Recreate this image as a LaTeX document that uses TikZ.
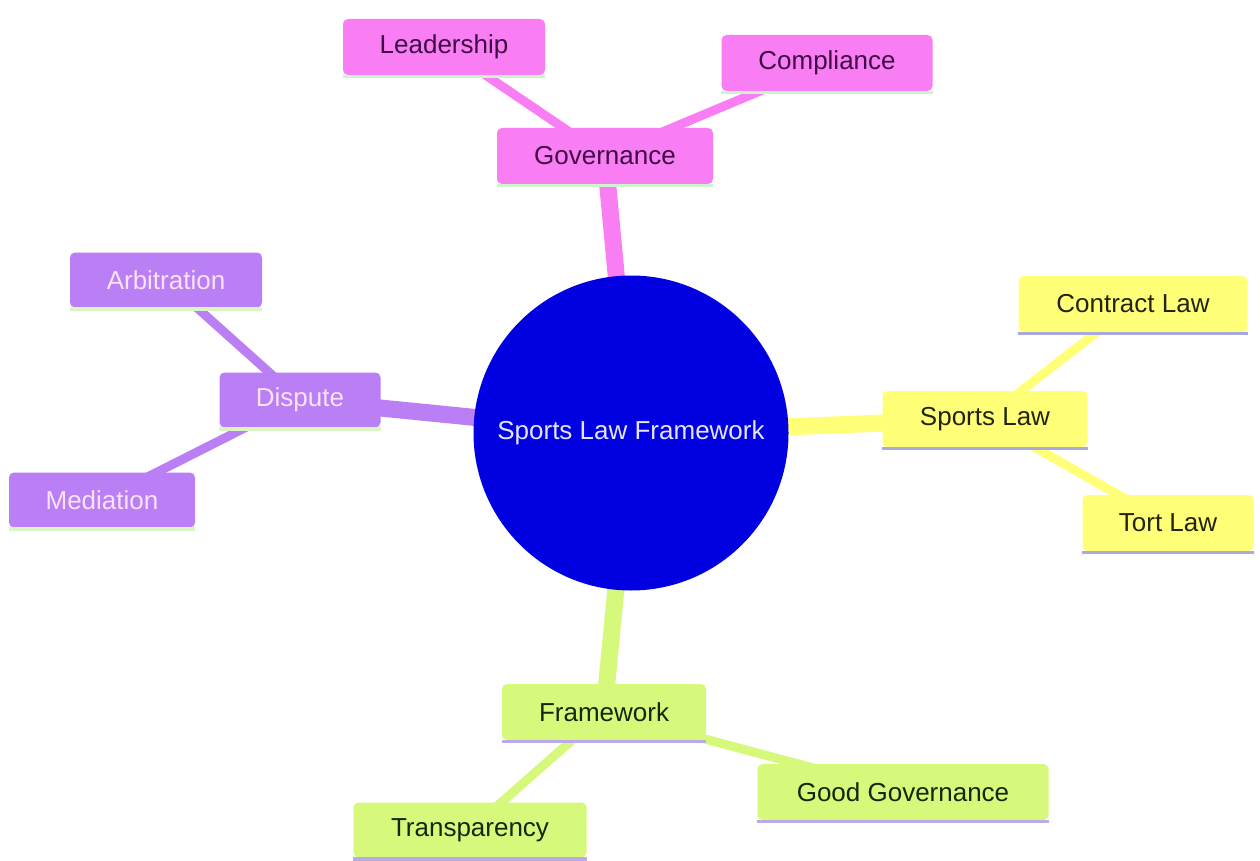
\documentclass[tikz,border=0pt]{standalone}
\usepackage{fontspec}
\setmainfont{Liberation Sans}
\definecolor{pinkf}{HTML}{F97EF4}
\definecolor{pinkt}{HTML}{3F0A45}
\definecolor{pinkl}{HTML}{CDF5CD}
\definecolor{yelf}{HTML}{FFFF78}
\definecolor{yelt}{HTML}{24240E}
\definecolor{yell}{HTML}{A9A9E2}
\definecolor{purf}{HTML}{BB7FF5}
\definecolor{purt}{HTML}{FBE2FB}
\definecolor{purl}{HTML}{DAF6C4}
\definecolor{grnf}{HTML}{D6F97C}
\definecolor{grnt}{HTML}{17260A}
\definecolor{grnl}{HTML}{BBAAE8}
\definecolor{rootf}{HTML}{0000E0}
\definecolor{roott}{HTML}{E4E4FF}
\pgfdeclarelayer{bgpaper}
\pgfdeclarelayer{edges}
\pgfsetlayers{bgpaper,edges,main}
\begin{document}
\begin{tikzpicture}[x=1pt,y=-1pt,
  mmbox/.style={rectangle, rounded corners=5pt, inner sep=0pt, minimum height=56pt,
    font=\fontsize{26}{30}\selectfont},
  pinkbox/.style={mmbox, fill=pinkf, text=pinkt},
  yelbox/.style={mmbox, fill=yelf, text=yelt},
  purbox/.style={mmbox, fill=purf, text=purt},
  grnbox/.style={mmbox, fill=grnf, text=grnt},
  mainedge/.style={line width=17pt},
  leafedge/.style={line width=9pt},
  underline/.style={line width=3.5pt}
]
\begin{pgfonlayer}{bgpaper}
\fill[white] (0,0) rectangle (1260,861);
\end{pgfonlayer}
\useasboundingbox (0,0) rectangle (1260,861);

% root
\node[circle, fill=rootf, text=roott, minimum size=315pt, inner sep=0pt,
  font=\fontsize{26}{30}\selectfont] (root) at (631,433) {Sports Law Framework};

% Governance branch
\node[pinkbox, minimum width=216pt] (gov) at (605,156) {Governance};
\node[pinkbox, minimum width=202pt] (lead) at (444,47) {Leadership};
\node[pinkbox, minimum width=211pt] (comp) at (827,63) {Compliance};

% Sports Law branch
\node[yelbox, minimum width=205pt] (sl) at (985,419) {Sports Law};
\node[yelbox, minimum width=229pt] (cl) at (1133,304) {Contract Law};
\node[yelbox, minimum width=171pt] (tl) at (1168,523) {Tort Law};

% Dispute branch
\node[purbox, minimum width=161pt, minimum height=55pt] (disp) at (300,400) {Dispute};
\node[purbox, minimum width=192pt, minimum height=55pt] (arb) at (166,280) {Arbitration};
\node[purbox, minimum width=186pt, minimum height=55pt] (med) at (102,500) {Mediation};

% Framework branch
\node[grnbox, minimum width=204pt] (fw) at (604,712) {Framework};
\node[grnbox, minimum width=291pt] (gg) at (903,792) {Good Governance};
\node[grnbox, minimum width=233pt, minimum height=55pt] (tr) at (470,830) {Transparency};

% underlines
\foreach \n/\c in {gov/pinkl, lead/pinkl, comp/pinkl, sl/yell, cl/yell, tl/yell,
                   disp/purl, arb/purl, med/purl, fw/grnl, gg/grnl, tr/grnl}{
  \draw[underline, \c] ([yshift=-1.5pt]\n.south west) -- ([yshift=-1.5pt]\n.south east);
}

% edges
\begin{pgfonlayer}{edges}
\draw[mainedge, pinkf] (root.center) -- (gov.center);
\draw[leafedge, pinkf] (gov.center) -- (lead.center);
\draw[leafedge, pinkf] (gov.center) -- (comp.center);
\draw[mainedge, yelf] (root.center) -- (sl.center);
\draw[leafedge, yelf] (sl.center) -- (cl.center);
\draw[leafedge, yelf] (sl.center) -- (tl.center);
\draw[mainedge, purf] (root.center) -- (disp.center);
\draw[leafedge, purf] (disp.center) -- (arb.center);
\draw[leafedge, purf] (disp.center) -- (med.center);
\draw[mainedge, grnf] (root.center) -- (fw.center);
\draw[leafedge, grnf] (fw.center) -- (gg.center);
\draw[leafedge, grnf] (fw.center) -- (tr.center);
\end{pgfonlayer}
\end{tikzpicture}
\end{document}
